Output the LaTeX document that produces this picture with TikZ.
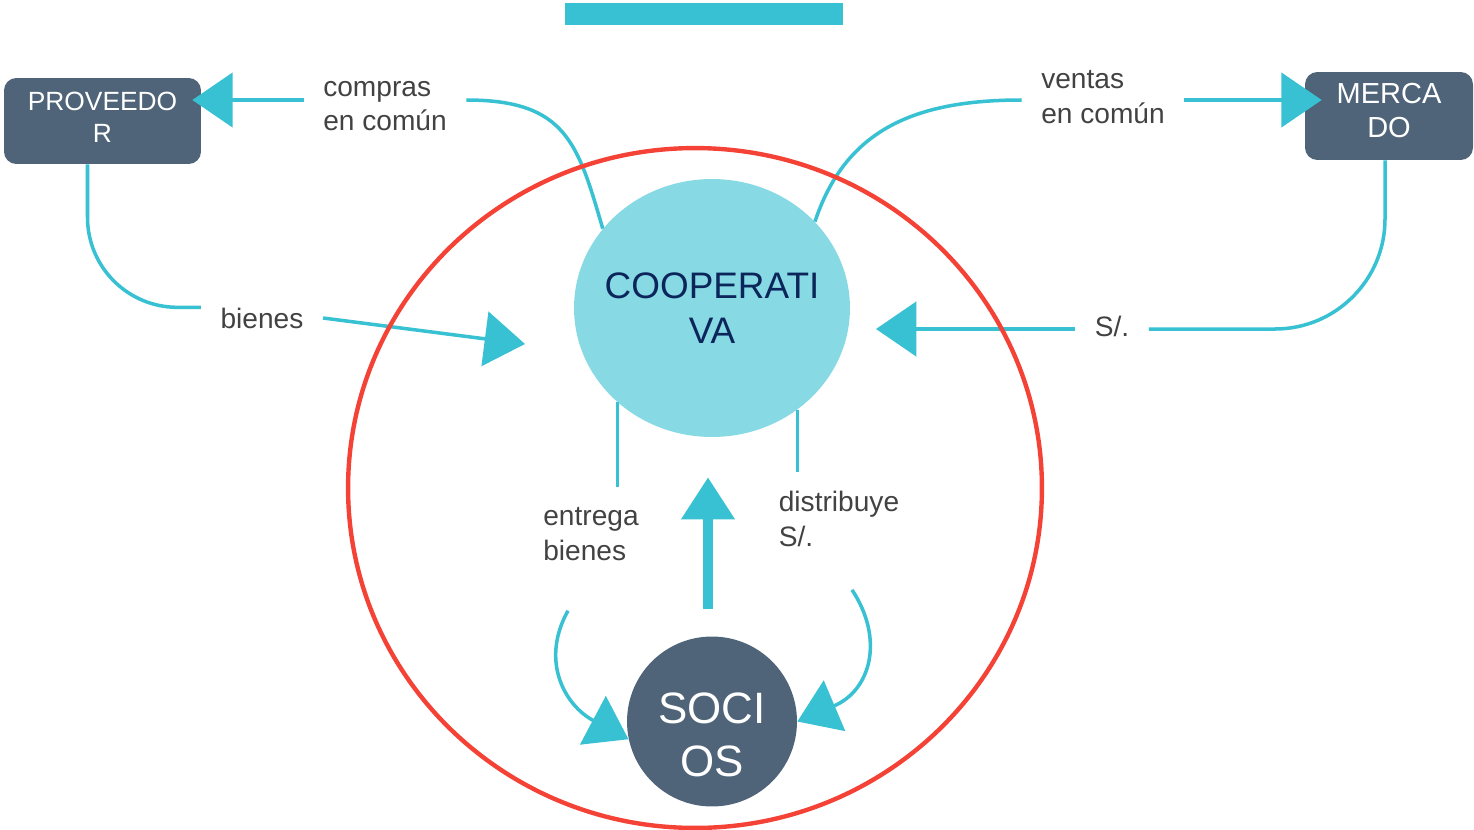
\documentclass[tikz,border=0pt]{standalone}
\usepackage{fontspec}
\setmainfont{Liberation Sans}
\usetikzlibrary{arrows.meta,shapes.geometric,calc}

\definecolor{flowteal}{RGB}{56,193,210}
\definecolor{slate}{RGB}{79,100,121}
\definecolor{coopfill}{RGB}{135,217,227}
\definecolor{coopnavy}{RGB}{12,38,92}
\definecolor{ringred}{RGB}{244,67,54}
\definecolor{labelgray}{RGB}{66,66,66}

\tikzset{
  flow/.style={draw=flowteal, line width=2pt, >={Triangle[length=23pt,width=31pt]}},
  lbl/.style={text=labelgray, align=left, inner xsep=11pt, inner ysep=0pt, font=\fontsize{16}{19.5}\selectfont},
  agent/.style={fill=slate, text=white, rounded corners=7pt, align=center, inner sep=0pt},
}

\begin{document}
\begin{tikzpicture}[x=0.02cm, y=-0.02cm]
\useasboundingbox (0,0) rectangle (1474,829);

\fill[flowteal] (565,3) rectangle (843,25);

\node[agent, minimum width=3.94cm, minimum height=1.72cm, font=\fontsize{15}{18}\selectfont] (prov) at (102.5,121) {PROVEEDO\\R\rule[-4pt]{0pt}{0pt}};
\node[agent, minimum width=3.36cm, minimum height=1.76cm, font=\fontsize{16.5}{19.3}\selectfont] (merc) at (1389,116) {MERCA\\DO\rule[-6.2pt]{0pt}{0pt}};

\node[ellipse, fill=coopfill, text=coopnavy, minimum width=5.52cm, minimum height=5.16cm, inner xsep=-20pt, inner ysep=0pt, align=center, font=\fontsize{21}{25.5}\selectfont] (coop) at (712,308) {COOPERATI\\VA};
\node[circle, fill=slate, text=white, minimum size=3.4cm, inner sep=0pt, align=center, font=\fontsize{25}{30}\selectfont] (socios) at (712,721.5) {\rule{0pt}{33pt}SOCI\\OS};

\node[lbl] (lblCompras) at (385,106) {compras\\en común};
\node[lbl] (lblVentas) at (1103,97) {ventas\\en común};
\node[lbl] (lblBienes) at (262,318) {bienes};
\node[lbl] (lblS) at (1112,326) {S/.};
\node[lbl] (lblEntrega) at (591,534) {entrega\\bienes};
\node[lbl] (lblDistrib) at (839,519) {distribuye\\S/.};

\coordinate (bienesTip) at (525,344);
\coordinate (sTip) at (876,329);

\draw[flow] (coop.144) .. controls +(-25,-85) and +(100,0) .. ($(lblCompras.east)+(0,-6)$);
\draw[flow, ->] ($(lblCompras.west)+(0,-6)$) -- ($(prov.east |- lblCompras.west)+(-9,-6)$);

\draw[flow] (coop.40) .. controls +(30,-90) and +(-110,0) .. ($(lblVentas.west)+(0,3)$);
\draw[flow, ->] ($(lblVentas.east)+(0,3)$) -- ($(merc.west |- lblVentas.east)+(17,3)$);

\draw[flow, rounded corners=1.8cm] ([xshift=-0.3cm]prov.south) |- (lblBienes.north west);
\draw[flow, ->] (lblBienes.east) -- (bienesTip);

\draw[flow, rounded corners=2.2cm] ([xshift=-0.08cm]merc.south) |- ($(lblS.east)+(0,3)$);
\draw[flow, ->] ($(lblS.west)+(0,3)$) -- (sTip);

\draw[flow] (coop.225) -- ++(0,85);
\draw[flow] (coop.310) -- ++(0,62);

\draw[flow, ->] ($(lblEntrega.south)+(-23,50)$) .. controls +(-28,50) and +(-64,-34) .. (socios.192);
\draw[flow, ->] ($(lblDistrib.south)+(13,43)$) .. controls +(33,50) and +(73,-31) .. (socios.east);

\draw[flowteal, line width=6.2pt, -{Triangle[length=24pt,width=29pt]}] ([xshift=-0.08cm]socios.north) ++(0,-27) -- ++(0,-132);

\draw[ringred, line width=2.5pt] (695,488) ellipse [x radius=6.94cm, y radius=6.8cm];

\end{tikzpicture}
\end{document}
